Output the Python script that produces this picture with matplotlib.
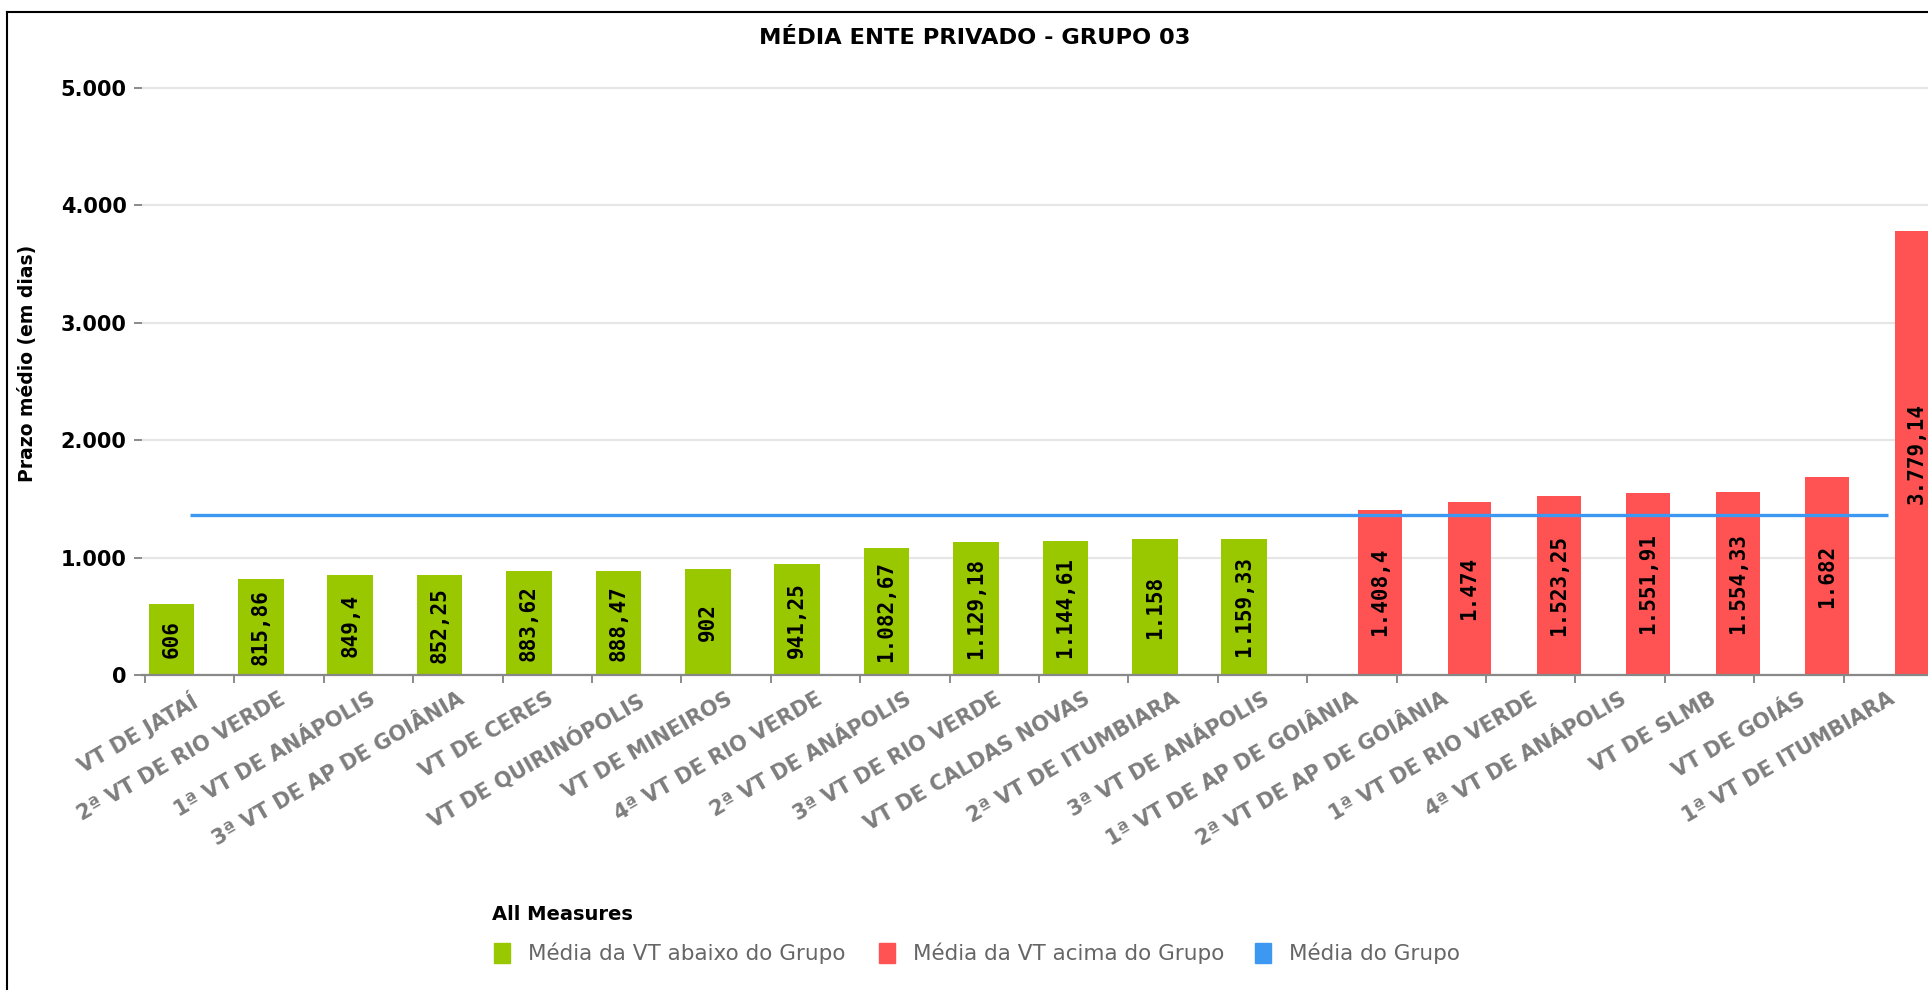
import matplotlib
matplotlib.use("Agg")
import matplotlib.pyplot as plt
from matplotlib.patches import Rectangle
from matplotlib.lines import Line2D

# ---------------- data ----------------
categorias = [
    "VT DE JATAÍ", "2ª VT DE RIO VERDE", "1ª VT DE ANÁPOLIS", "3ª VT DE AP DE GOIÂNIA",
    "VT DE CERES", "VT DE QUIRINÓPOLIS", "VT DE MINEIROS", "4ª VT DE RIO VERDE",
    "2ª VT DE ANÁPOLIS", "3ª VT DE RIO VERDE", "VT DE CALDAS NOVAS", "2ª VT DE ITUMBIARA",
    "3ª VT DE ANÁPOLIS", "1ª VT DE AP DE GOIÂNIA", "2ª VT DE AP DE GOIÂNIA", "1ª VT DE RIO VERDE",
    "4ª VT DE ANÁPOLIS", "VT DE SLMB", "VT DE GOIÁS", "1ª VT DE ITUMBIARA",
]
abaixo_valores = [606, 815.86, 849.4, 852.25, 883.62, 888.47, 902, 941.25,
                  1082.67, 1129.18, 1144.61, 1158, 1159.33]
acima_valores = [1408.4, 1474, 1523.25, 1551.91, 1554.33, 1682, 3779.14]
media_grupo = 1363
series_nomes = ["Média da VT abaixo do Grupo", "Média da VT acima do Grupo", "Média do Grupo"]
titulo = "MÉDIA ENTE PRIVADO - GRUPO 03"
y_label = "Prazo médio (em dias)"
legenda_titulo = "All Measures"
y_ticks = [0, 1000, 2000, 3000, 4000, 5000]
y_tick_labels = ["0", "1.000", "2.000", "3.000", "4.000", "5.000"]

# ---------------- style ----------------
COR_VERDE = "#99c700"
COR_VERMELHO = "#ff5353"
COR_AZUL = "#3d98f2"
W, H = 1928, 990


def fmt_br(v):
    s = f"{v:,.2f}".rstrip("0").rstrip(".")
    return s.replace(",", "#").replace(".", ",").replace("#", ".")


fig = plt.figure(figsize=(W / 100, H / 100), dpi=100)
ax_left_px, ax_right_px = 142, 1928
y0_px, px_per_1000 = 675, 117.46
ymax = 5150
top_px = y0_px - ymax / 1000 * px_per_1000
ax = fig.add_axes([ax_left_px / W, (H - y0_px) / H,
                   (ax_right_px - ax_left_px) / W, (y0_px - top_px) / H])

n = len(categorias)
n_abaixo = len(abaixo_valores)
x_abaixo = [i + 0.04 for i in range(n_abaixo)]
x_acima = [n_abaixo + i + 0.57 for i in range(len(acima_valores))]

b1 = ax.bar(x_abaixo, abaixo_valores, width=0.51, align="edge", color=COR_VERDE,
            zorder=2, label=series_nomes[0])
b2 = ax.bar(x_acima, acima_valores, width=0.49, align="edge", color=COR_VERMELHO,
            zorder=2, label=series_nomes[1])

for bars, vals in ((b1, abaixo_valores), (b2, acima_valores)):
    for rect, v in zip(bars, vals):
        ax.text(rect.get_x() + rect.get_width() / 2, v / 2, fmt_br(v),
                rotation=90, ha="center", va="center", fontsize=15,
                fontweight="bold", family="DejaVu Sans Mono", color="black", zorder=4)

centros = [i + 0.5 for i in range(n)]
ax.plot(centros, [media_grupo] * n, color=COR_AZUL, lw=2.4, zorder=3,
        solid_capstyle="butt", label=series_nomes[2])

ax.set_xlim(-0.034, (ax_right_px - 145) / 89.4)
ax.set_ylim(0, ymax)

# y axis
ax.set_yticks(y_ticks)
ax.set_yticklabels(y_tick_labels, fontsize=15, fontweight="bold", color="black")
ax.tick_params(axis="y", length=6, width=1.2, color="#777777", pad=5)
ax.yaxis.grid(True, color="#e6e6e6", lw=1.6, zorder=0)
ax.set_axisbelow(True)

# x axis: ticks at category boundaries, labels at centres
ax.set_xticks(list(range(n)))
ax.set_xticklabels([])
ax.tick_params(axis="x", which="major", length=6, width=1.2, color="#777777")
ax.set_xticks(centros, categorias, minor=True)
ax.tick_params(axis="x", which="minor", length=0, pad=10)
for lab in ax.get_xticklabels(minor=True):
    lab.set_rotation(30)
    lab.set_ha("right")
    lab.set_va("top")
    lab.set_rotation_mode("anchor")
    lab.set_fontsize(15)
    lab.set_fontweight("bold")
    lab.set_color("#7d7d7d")

for s in ("top", "right", "left"):
    ax.spines[s].set_visible(False)
ax.spines["bottom"].set_color("#888888")
ax.spines["bottom"].set_linewidth(1.6)

# titles
fig.text(975 / W, 1 - 38 / H, titulo, ha="center", va="center",
         fontsize=16.2, fontweight="bold", color="black")
fig.text(28 / W, 1 - 363 / H, y_label, rotation=90, ha="center", va="center",
         fontsize=13.5, fontweight="bold", color="black")

# outer border (top and left visible)
fig.add_artist(Line2D([7 / W, 7 / W], [0, 1 - 12 / H], transform=fig.transFigure,
                      color="black", lw=1.5))
fig.add_artist(Line2D([7 / W, 1], [1 - 12 / H, 1 - 12 / H], transform=fig.transFigure,
                      color="black", lw=1.5))

# legend (manual)
fig.text(492 / W, 1 - 914 / H, legenda_titulo, ha="left", va="center",
         fontsize=14, fontweight="bold", color="black")
leg_cores = [COR_VERDE, COR_VERMELHO, COR_AZUL]
leg_x = [494, 879, 1255]
for cx, cor, nome in zip(leg_x, leg_cores, series_nomes):
    fig.add_artist(Rectangle((cx / W, 1 - 963 / H), 16 / W, 20 / H,
                             transform=fig.transFigure, color=cor))
    fig.text((cx + 34) / W, 1 - 953 / H, nome, ha="left", va="center",
             fontsize=15.5, color="#666666")

fig.savefig("out.png", dpi=100)
